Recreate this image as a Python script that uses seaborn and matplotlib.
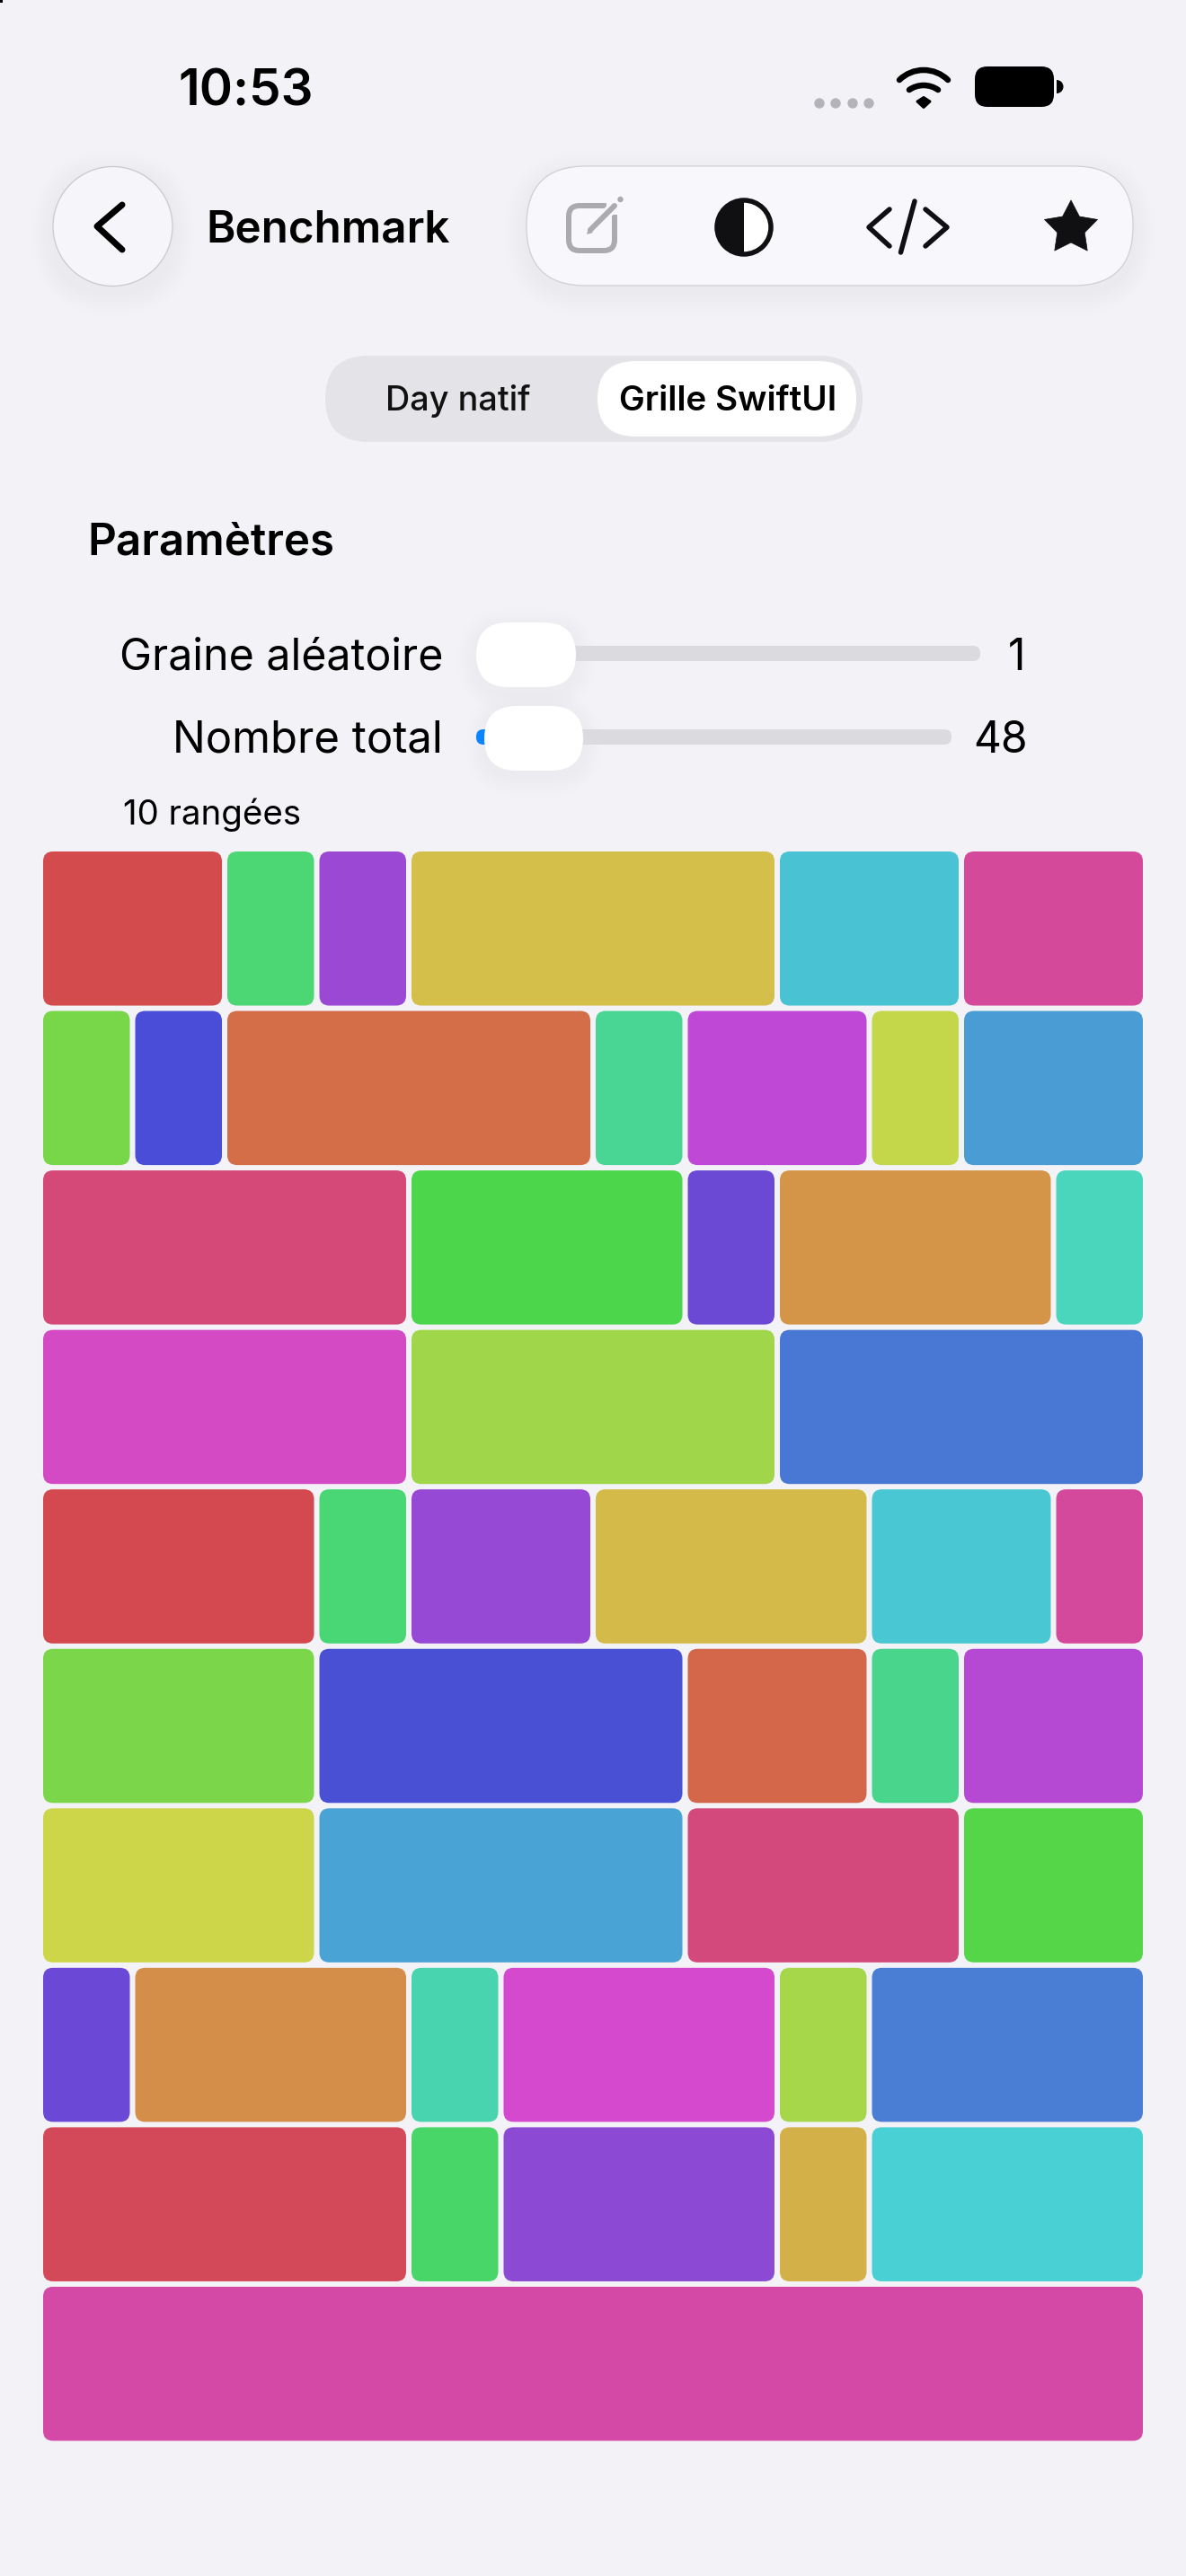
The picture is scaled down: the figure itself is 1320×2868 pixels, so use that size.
import numpy as np
import pandas as pd
import matplotlib.pyplot as plt
import seaborn as sns
from matplotlib.patches import Arc, Circle, FancyBboxPatch, Polygon, Rectangle, Wedge

# Cell spans per row, on a 12 column grid
row_labels = ["r1", "r2", "r3", "r4", "r5", "r6", "r7", "r8", "r9", "r10"]
row_spans = [
    [2, 1, 1, 4, 2, 2],
    [1, 1, 4, 1, 2, 1, 2],
    [4, 3, 1, 3, 1],
    [4, 4, 4],
    [3, 1, 2, 3, 2, 1],
    [3, 4, 2, 1, 2],
    [3, 4, 3, 2],
    [1, 3, 1, 3, 1, 3],
    [4, 1, 3, 1, 3],
    [12],
]
row_colors = [
    ["#D44B4D", "#4CD674", "#9B49D4", "#D3BF49", "#49C2D4", "#D44999"],
    ["#78D649", "#494DD8", "#D46E49", "#49D695", "#BF49D6", "#C4D649", "#499CD4"],
    ["#D44978", "#4CD64C", "#6B49D4", "#D49549", "#49D6BD"],
    ["#D449C4", "#A0D649", "#4978D4"],
    ["#D44950", "#49D674", "#9549D4", "#D4BA49", "#49C8D4", "#D4499C"],
    ["#7BD649", "#4950D4", "#D46749", "#49D68C", "#B549D4"],
    ["#CDD649", "#49A3D4", "#D4497B", "#55D649"],
    ["#6B49D6", "#D48E49", "#49D4B0", "#D449CE", "#A6D649", "#497ED4"],
    ["#D4495A", "#49D668", "#8B49D4", "#D4B049", "#49D0D4"],
    ["#D449A5"],
]

BG = "#F2F2F7"
W, H = 1320, 2868
GRID_LEFT, GRID_TOP = 45, 945
COL_PX, ROW_PX, GAP_PX = 102.5, 177.55, 6

sns.set_theme(style="white")
plt.rcParams["font.family"] = ["Inter", "DejaVu Sans"]


def px(size):
    # font size from pixels at dpi 100
    return size * 0.72


def build_frame():
    rows = []
    for label, spans, colors in zip(row_labels, row_spans, row_colors):
        start = 0
        for span, color in zip(spans, colors):
            rows.append({"row": label, "start": start, "span": span, "color": color})
            start += span
    return pd.DataFrame(rows)


def draw_grid(fig, cells):
    ax = fig.add_axes([GRID_LEFT / W, 1 - (GRID_TOP + 10 * ROW_PX) / H, 12 * COL_PX / W, 10 * ROW_PX / H])
    for _, cell in cells.iterrows():
        sns.barplot(x=[cell["span"]], y=[cell["row"]], order=row_labels, left=cell["start"],
                    color=cell["color"], saturation=1, width=1 - GAP_PX / ROW_PX, orient="h", ax=ax)
    ax.set_xlim(0, 12)
    ax.set_ylim(9.5, -0.5)
    ax.axis("off")

    # seaborn draws square bars, swap them for rounded ones with the grid gap
    inset = GAP_PX / 2 / COL_PX
    for bar in list(ax.patches):
        x, y = bar.get_x(), bar.get_y()
        w, h = bar.get_width(), bar.get_height()
        color = bar.get_facecolor()
        bar.remove()
        ax.add_patch(FancyBboxPatch((x + inset, y), w - 2 * inset, h, facecolor=color, edgecolor="none",
                                    boxstyle=f"round,pad=0,rounding_size={11 / COL_PX}",
                                    mutation_aspect=COL_PX / ROW_PX))


def rbox(ax, x0, y0, x1, y1, radius, zorder=2, **kw):
    box = FancyBboxPatch((x0, y0), x1 - x0, y1 - y0, boxstyle=f"round,pad=0,rounding_size={radius}",
                         zorder=zorder, **kw)
    ax.add_patch(box)
    return box


def shadow(ax, x0, y0, x1, y1, radius, spread=24, dy=8, alpha=0.006):
    for s in range(spread, 0, -3):
        rbox(ax, x0 - s, y0 - s + dy, x1 + s, y1 + s + dy, radius + s, zorder=1,
             facecolor="black", edgecolor="none", alpha=alpha)


def draw_status_bar(ax):
    ax.add_patch(Rectangle((0, 0), 3, 3, facecolor="black", edgecolor="none"))
    ax.text(198, 117, "10:53", fontsize=px(56.4), fontweight=600, color="black", ha="left", va="baseline")
    for cx in [912, 930, 949, 967]:
        ax.add_patch(Circle((cx, 115), 5.7, facecolor="#B5B3BA", edgecolor="none"))
    # wifi
    ax.add_patch(Arc((1028, 116.6), 77.2, 77.2, theta1=225.6, theta2=314.4, color="black", lw=px(6.5), capstyle="round"))
    ax.add_patch(Arc((1028, 123), 56, 56, theta1=235, theta2=305, color="black", lw=px(6.5), capstyle="round"))
    ax.add_patch(Polygon([[1021, 113], [1028, 108.5], [1035, 113], [1028, 119.5]], closed=True, facecolor="black",
                         edgecolor="black", lw=px(3), joinstyle="round"))
    # battery
    rbox(ax, 1085, 74, 1173, 119, 14, facecolor="black", edgecolor="none")
    ax.add_patch(Wedge((1176, 96.5), 7.5, -90, 90, facecolor="black", edgecolor="none"))


def draw_toolbar(ax):
    pill = "#F8F8FC"
    shadow(ax, 59, 185, 192, 318, 66, alpha=0.0028)
    shadow(ax, 586, 185, 1261, 318, 66, alpha=0.0028)
    ax.add_patch(Circle((125.5, 252), 66.5, facecolor="#F6F6FA", edgecolor="#C9C9CE", lw=0.9, zorder=3))
    ax.plot([136, 108, 136], [228, 252, 278], color="black", lw=px(7), solid_capstyle="round",
            solid_joinstyle="round", zorder=4)
    ax.text(229, 270, "Benchmark", fontsize=px(49.3), fontweight=600, color="black", ha="left", va="baseline")

    rbox(ax, 586, 185, 1261, 318, 66, zorder=3, facecolor=pill, edgecolor="#CFCFD4", lw=0.9)
    # note icon
    grey = "#ABABAF"
    rbox(ax, 633, 229, 684, 279, 12, zorder=4, facecolor="none", edgecolor=grey, lw=px(6))
    ax.add_patch(Rectangle((675, 222), 14, 17, facecolor=pill, edgecolor="none", zorder=5))
    ax.plot([657, 684], [256, 229], color=pill, lw=px(12), zorder=5)
    ax.plot([657, 684], [256, 229], color=grey, lw=px(6), zorder=6)
    ax.add_patch(Polygon([[653, 261], [655, 254], [660, 259]], closed=True, facecolor=grey, edgecolor="none", zorder=6))
    ax.add_patch(Circle((690.5, 222), 3.2, facecolor=grey, edgecolor="none", zorder=6))
    # contrast icon
    ax.add_patch(Circle((828, 253), 30, facecolor="white", edgecolor="#101012", lw=px(5.5), zorder=4))
    ax.add_patch(Wedge((828, 253), 31, 90, 270, facecolor="#101012", edgecolor="none", zorder=5))
    # code icon
    ax.plot([990, 967, 990], [233, 253, 274], color="#101012", lw=px(5.5), solid_capstyle="round", zorder=4)
    ax.plot([1030, 1054, 1030], [233, 253, 274], color="#101012", lw=px(5.5), solid_capstyle="round", zorder=4)
    ax.plot([1018, 1002.5], [224, 281], color="#101012", lw=px(5.5), solid_capstyle="round", zorder=4)
    # star
    angles = np.deg2rad(np.arange(-90, 270, 36))
    radii = np.array([31, 16] * 5)
    star = np.column_stack([1192 + radii * np.cos(angles), 254 + radii * np.sin(angles)])
    ax.add_patch(Polygon(star, closed=True, facecolor="#101012", edgecolor="#101012", lw=0.5, joinstyle="round", zorder=4))


def draw_segmented(ax):
    rbox(ax, 362, 396, 960, 492, 48, facecolor="#E3E3E8", edgecolor="none")
    rbox(ax, 665, 402, 953, 486, 42, zorder=3, facecolor="white", edgecolor="none")
    ax.text(510, 457, "Day natif", fontsize=px(37.8), fontweight=500, color="#111111", ha="center", va="baseline")
    ax.text(810, 457, "Grille SwiftUI", fontsize=px(38.5), fontweight=600, color="black", ha="center", va="baseline", zorder=4)


def draw_controls(ax):
    ax.text(97, 618, "Paramètres", fontsize=px(49.3), fontweight=600, color="black", ha="left", va="baseline")
    ax.text(493, 746, "Graine aléatoire", fontsize=px(48.3), color="black", ha="right", va="baseline")
    ax.text(493, 838, "Nombre total", fontsize=px(49), color="black", ha="right", va="baseline")
    ax.text(1141, 746, "1", fontsize=px(48), color="black", ha="right", va="baseline")
    ax.text(1144, 838, "48", fontsize=px(48), color="black", ha="right", va="baseline")
    ax.text(137, 918, "10 rangées", fontsize=px(38.4), color="black", ha="left", va="baseline")

    rbox(ax, 560, 719, 1091, 736, 8, facecolor="#DADADF", edgecolor="none")
    rbox(ax, 560, 812, 1059, 829, 8, facecolor="#DADADF", edgecolor="none")
    rbox(ax, 530, 812, 570, 829, 8, facecolor="#0A84FF", edgecolor="none")
    shadow(ax, 530, 693, 641, 765, 36, spread=21, dy=6, alpha=0.005)
    shadow(ax, 539, 786, 649, 858, 36, spread=21, dy=6, alpha=0.005)
    rbox(ax, 530, 693, 641, 765, 36, zorder=3, facecolor="white", edgecolor="none")
    rbox(ax, 539, 786, 649, 858, 36, zorder=3, facecolor="white", edgecolor="none")


def main():
    fig = plt.figure(figsize=(W / 100, H / 100), dpi=100, facecolor=BG)
    ui = fig.add_axes([0, 0, 1, 1])
    ui.set_xlim(0, W)
    ui.set_ylim(H, 0)
    ui.axis("off")

    draw_status_bar(ui)
    draw_toolbar(ui)
    draw_segmented(ui)
    draw_controls(ui)
    draw_grid(fig, build_frame())

    fig.savefig("out.png", dpi=100, facecolor=BG)


if __name__ == "__main__":
    main()
